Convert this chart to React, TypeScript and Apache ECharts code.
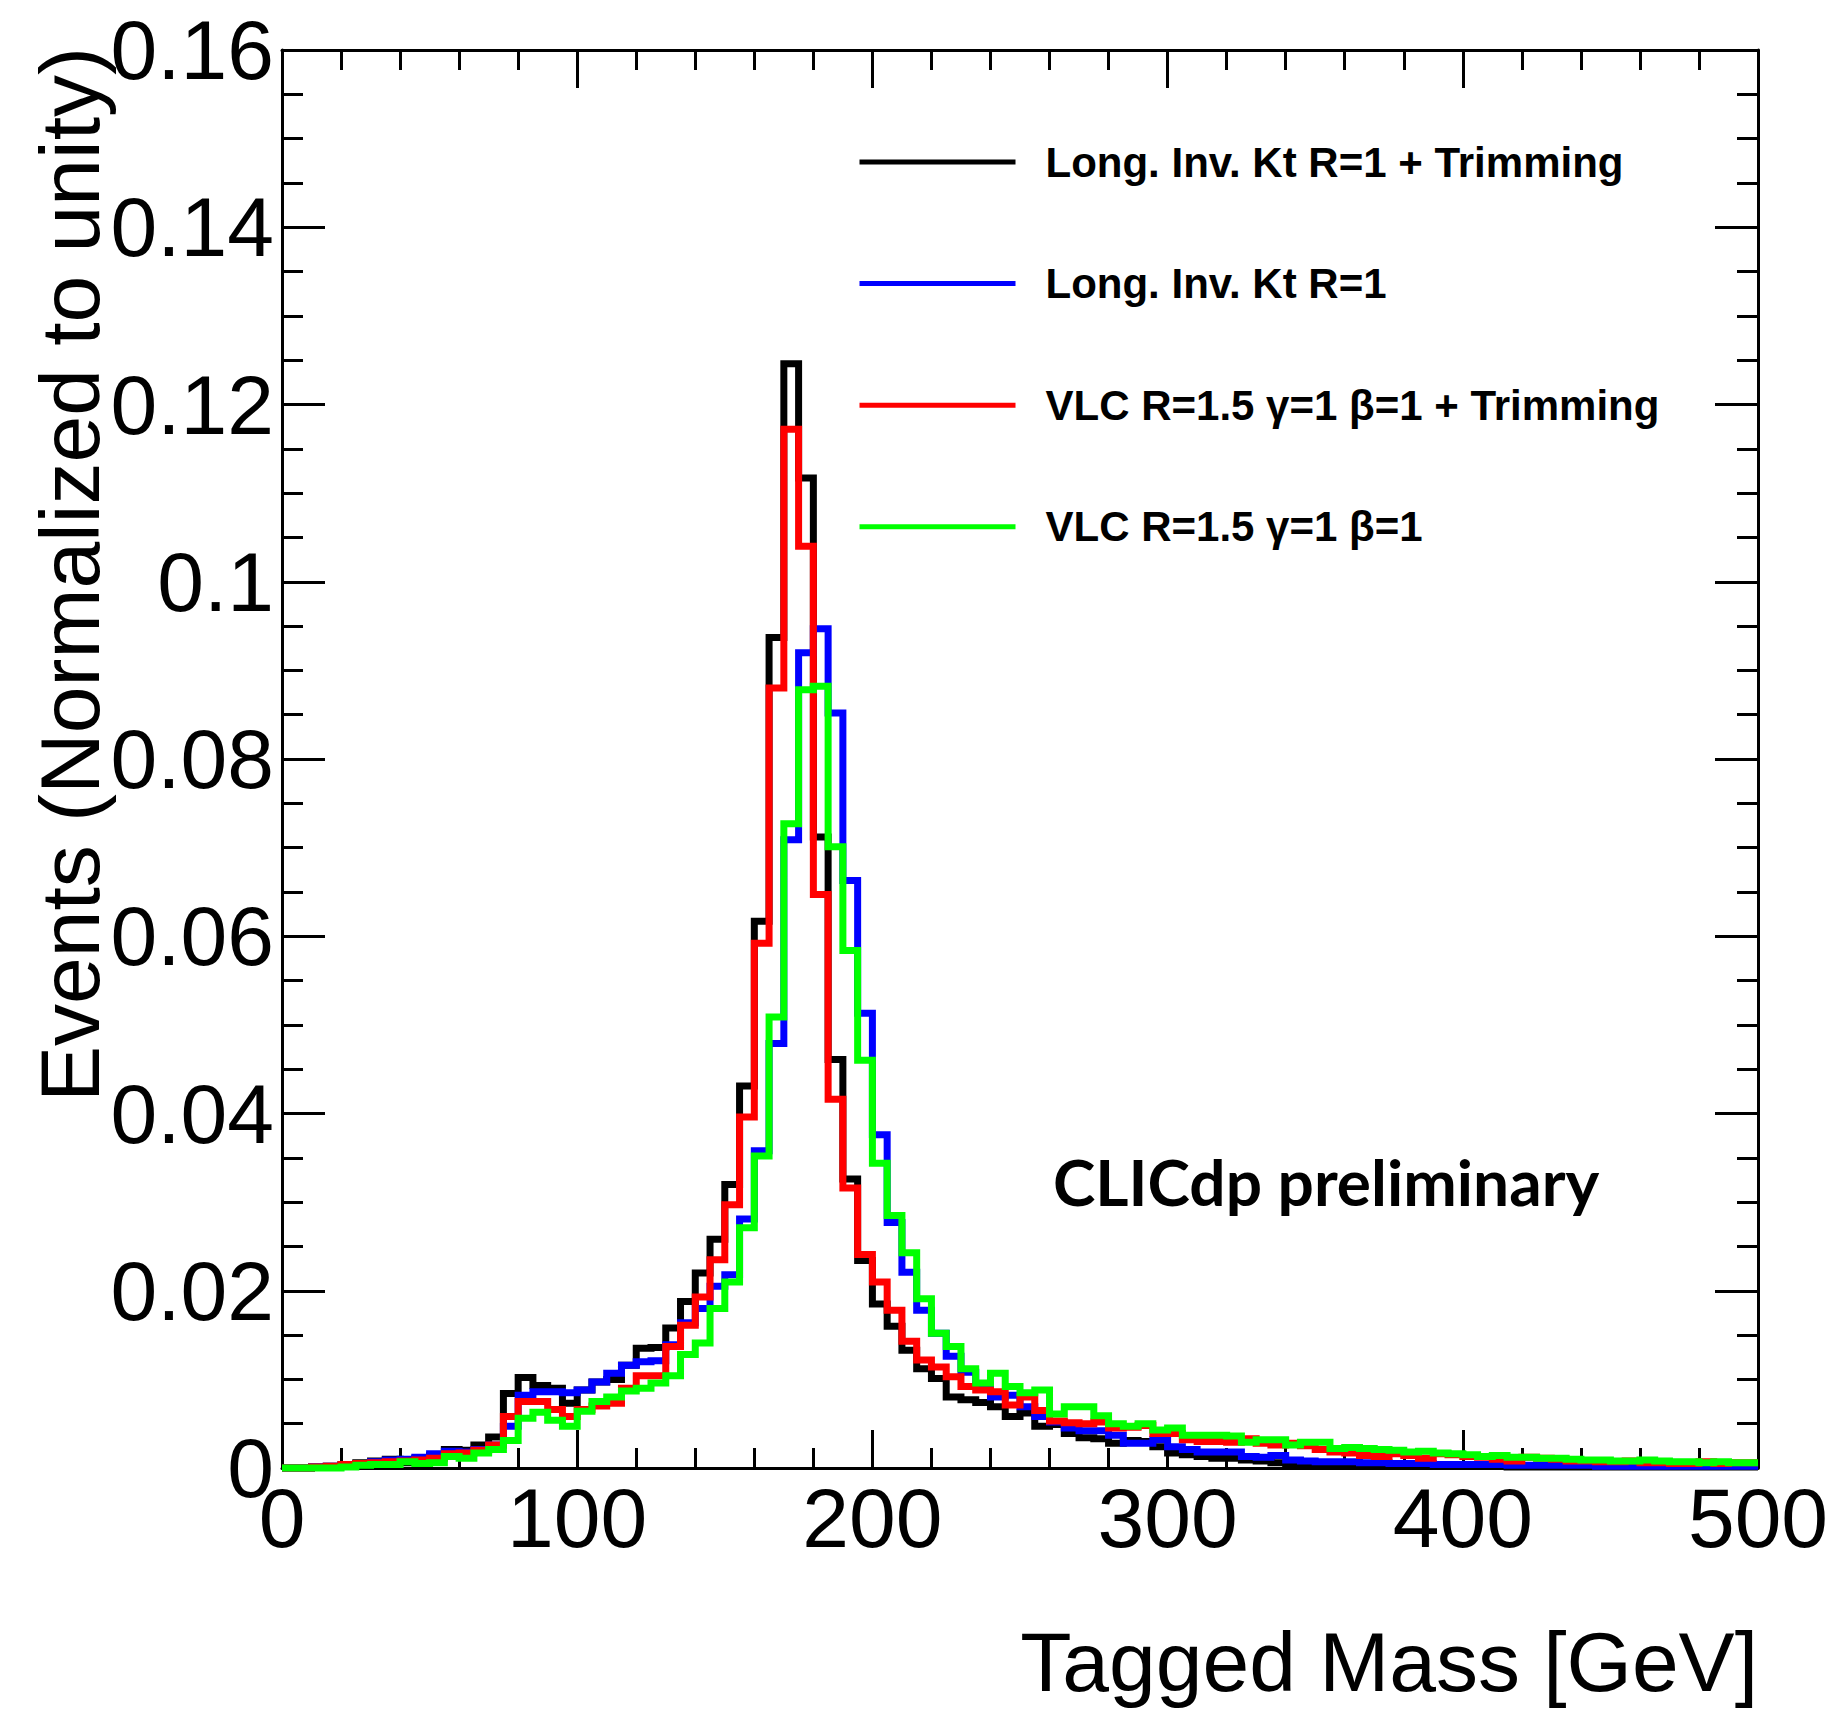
import React, { useEffect, useRef } from 'react';
import * as echarts from 'echarts';

// ---- data (histograms, 5 GeV bins from 0 to 500 GeV) ----
const BIN_WIDTH = 5;
const X_MIN = 0;
const X_MAX = 500;
const Y_MIN = 0;
const Y_MAX = 0.16;

const SERIES_NAMES = [
  'Long. Inv. Kt R=1 + Trimming',
  'Long. Inv. Kt R=1',
  'VLC R=1.5 γ=1 β=1 + Trimming',
  'VLC R=1.5 γ=1 β=1',
];
const SERIES_COLORS = ['#000000', '#0000ff', '#ff0000', '#00ff00'];

const likTrimmed = [
  0, 0, 0.0001, 0.0002, 0.0004, 0.0006, 0.0008, 0.0010, 0.0006, 0.0011,
  0.0014, 0.0021, 0.0020, 0.0026, 0.0035, 0.0084, 0.0102, 0.0093, 0.0090, 0.0073,
  0.0088, 0.0097, 0.0100, 0.0116, 0.0135, 0.0136, 0.0158, 0.0188, 0.0220, 0.0258,
  0.0320, 0.0431, 0.0617, 0.0937, 0.1246, 0.1117, 0.0712, 0.0461, 0.0326, 0.0234,
  0.0185, 0.0160, 0.0133, 0.0112, 0.0101, 0.0080, 0.0077, 0.0074, 0.0069, 0.0058,
  0.0062, 0.0047, 0.0049, 0.0039, 0.0034, 0.0033, 0.0028, 0.0031, 0.0030, 0.0024,
  0.0017, 0.0015, 0.0013, 0.0011, 0.0011, 0.0009, 0.0008, 0.0006, 0.0005, 0.0005,
  0.0004, 0.0004, 0.0004, 0.0003, 0.0003, 0.0003, 0.0002, 0.0002, 0.0002, 0.0002,
  0.0002, 0.0002, 0.0002, 0.0001, 0.0001, 0.0001, 0.0001, 0.0001, 0.0001, 0.0001,
  0.0001, 0.0001, 0.0001, 0.0001, 0.0001, 0.0001, 0.0001, 0.0001, 0.0001, 0.0001,
];

const likUntrimmed = [
  0, 0, 0.0001, 0.0002, 0.0003, 0.0005, 0.0007, 0.0009, 0.0010, 0.0012,
  0.0016, 0.0019, 0.0018, 0.0021, 0.0026, 0.0047, 0.0082, 0.0086, 0.0086, 0.0085,
  0.0088, 0.0097, 0.0107, 0.0116, 0.0120, 0.0121, 0.0139, 0.0164, 0.0180, 0.0205,
  0.0218, 0.0281, 0.0358, 0.0479, 0.0709, 0.0920, 0.0947, 0.0852, 0.0663, 0.0513,
  0.0376, 0.0277, 0.0221, 0.0178, 0.0152, 0.0126, 0.0108, 0.0094, 0.0080, 0.0082,
  0.0069, 0.0058, 0.0052, 0.0045, 0.0042, 0.0042, 0.0037, 0.0028, 0.0028, 0.0032,
  0.0024, 0.0021, 0.0018, 0.0018, 0.0018, 0.0013, 0.0012, 0.0014, 0.0009, 0.0008,
  0.0007, 0.0007, 0.0007, 0.0006, 0.0006, 0.0005, 0.0005, 0.0005, 0.0004, 0.0004,
  0.0004, 0.0004, 0.0004, 0.0003, 0.0003, 0.0003, 0.0003, 0.0003, 0.0003, 0.0002,
  0.0002, 0.0002, 0.0002, 0.0002, 0.0002, 0.0002, 0.0002, 0.0002, 0.0002, 0.0002,
];

const vlcTrimmed = [
  0, 0, 0.0001, 0.0002, 0.0004, 0.0005, 0.0006, 0.0007, 0.0008, 0.0009,
  0.0011, 0.0016, 0.0017, 0.0020, 0.0026, 0.0058, 0.0075, 0.0075, 0.0066, 0.0058,
  0.0066, 0.0070, 0.0073, 0.0090, 0.0104, 0.0104, 0.0137, 0.0161, 0.0193, 0.0235,
  0.0297, 0.0396, 0.0592, 0.0880, 0.1172, 0.1040, 0.0647, 0.0416, 0.0316, 0.0241,
  0.0210, 0.0178, 0.0143, 0.0122, 0.0114, 0.0103, 0.0092, 0.0088, 0.0086, 0.0071,
  0.0080, 0.0065, 0.0053, 0.0051, 0.0050, 0.0052, 0.0045, 0.0046, 0.0048, 0.0039,
  0.0039, 0.0032, 0.0030, 0.0030, 0.0029, 0.0033, 0.0028, 0.0026, 0.0028, 0.0025,
  0.0021, 0.0018, 0.0017, 0.0014, 0.0013, 0.0016, 0.0014, 0.0011, 0.0016, 0.0015,
  0.0013, 0.0012, 0.0010, 0.0008, 0.0012, 0.0011, 0.0010, 0.0008, 0.0008, 0.0007,
  0.0007, 0.0008, 0.0006, 0.0006, 0.0005, 0.0005, 0.0007, 0.0005, 0.0006, 0.0006,
];

const vlcUntrimmed = [
  0, 0, 0, 0, 0.0001, 0.0003, 0.0004, 0.0004, 0.0007, 0.0005,
  0.0006, 0.0013, 0.0011, 0.0017, 0.0021, 0.0031, 0.0056, 0.0063, 0.0054, 0.0047,
  0.0064, 0.0075, 0.0080, 0.0087, 0.0090, 0.0096, 0.0104, 0.0128, 0.0141, 0.0180,
  0.0210, 0.0271, 0.0352, 0.0509, 0.0727, 0.0878, 0.0882, 0.0701, 0.0584, 0.0460,
  0.0344, 0.0285, 0.0243, 0.0191, 0.0152, 0.0137, 0.0112, 0.0096, 0.0107, 0.0092,
  0.0085, 0.0088, 0.0061, 0.0069, 0.0069, 0.0059, 0.0050, 0.0047, 0.0050, 0.0043,
  0.0045, 0.0037, 0.0037, 0.0037, 0.0036, 0.0029, 0.0032, 0.0032, 0.0026, 0.0029,
  0.0029, 0.0022, 0.0023, 0.0022, 0.0021, 0.0020, 0.0018, 0.0019, 0.0017, 0.0016,
  0.0015, 0.0013, 0.0014, 0.0012, 0.0012, 0.0011, 0.0011, 0.0010, 0.0009, 0.0009,
  0.0008, 0.0008, 0.0009, 0.0008, 0.0007, 0.0007, 0.0006, 0.0007, 0.0006, 0.0006,
];

const SERIES_VALUES = [likTrimmed, likUntrimmed, vlcTrimmed, vlcUntrimmed];

const X_TITLE = 'Tagged Mass [GeV]';
const Y_TITLE = 'Events (Normalized to unity)';
const LABEL_TEXT = 'CLICdp preliminary';

// histogram contour: one point per bin low edge, plus the closing upper edge
const toSteps = (vals: number[]) => {
  const pts: [number, number][] = vals.map((v, i) => [X_MIN + i * BIN_WIDTH, v]);
  pts.push([X_MIN + vals.length * BIN_WIDTH, vals[vals.length - 1]]);
  return pts;
};

const AXIS_FONT = 'Liberation Sans';

const baseAxis = {
  axisLine: { show: true, onZero: false, lineStyle: { color: '#000', width: 3 } },
  splitLine: { show: false },
  minorSplitLine: { show: false },
};

const yFormatter = (v: number) => (v === 0 ? '0' : String(parseFloat(v.toFixed(3))));

export default function App() {
  const ref = useRef<HTMLDivElement>(null);
  useEffect(() => {
    document.body.style.margin = '0';
    const chart = echarts.init(ref.current!, null, { renderer: 'svg' });
    const option: any = {
      animation: false,
      backgroundColor: '#ffffff',
      grid: {
        left: 282,
        top: 50,
        right: 76,
        bottom: 242,
        containLabel: false,
        outerBoundsMode: 'none',
      },
      legend: {
        orient: 'vertical',
        left: 857,
        top: 141,
        padding: 0,
        itemWidth: 156,
        itemHeight: 42,
        itemGap: 79.6,
        selectedMode: false,
        data: SERIES_NAMES,
        lineStyle: { width: 5 },
        itemStyle: { opacity: 0, color: 'transparent', borderWidth: 0 },
        textStyle: {
          fontFamily: AXIS_FONT,
          fontWeight: 'bold',
          fontSize: 42,
          color: '#000',
          padding: [0, 0, 0, 25],
        },
      },
      xAxis: [
        {
          ...baseAxis,
          type: 'value',
          position: 'bottom',
          min: X_MIN,
          max: X_MAX,
          interval: 100,
          name: X_TITLE,
          nameLocation: 'end',
          nameGap: 0,
          nameMoveOverlap: false,
          nameTextStyle: {
            fontFamily: AXIS_FONT,
            fontSize: 84,
            color: '#000',
            align: 'right',
            verticalAlign: 'top',
            padding: [152, 0, 0, 0],
          },
          axisTick: { show: true, inside: true, length: 38, lineStyle: { color: '#000', width: 3 } },
          minorTick: { show: true, splitNumber: 5, length: 20, lineStyle: { color: '#000', width: 3 } },
          axisLabel: { show: true, fontFamily: AXIS_FONT, fontSize: 84, color: '#000', margin: 8 },
        },
        {
          ...baseAxis,
          type: 'value',
          position: 'top',
          min: X_MIN,
          max: X_MAX,
          interval: 100,
          axisTick: { show: true, inside: true, length: 38, lineStyle: { color: '#000', width: 3 } },
          minorTick: { show: true, splitNumber: 5, length: 20, lineStyle: { color: '#000', width: 3 } },
          axisLabel: { show: false },
        },
      ],
      yAxis: [
        {
          ...baseAxis,
          type: 'value',
          position: 'left',
          min: Y_MIN,
          max: Y_MAX,
          interval: 0.02,
          axisTick: { show: true, inside: true, length: 43, lineStyle: { color: '#000', width: 3 } },
          minorTick: { show: true, splitNumber: 4, length: 21, lineStyle: { color: '#000', width: 3 } },
          axisLabel: {
            show: true,
            fontFamily: AXIS_FONT,
            fontSize: 84,
            color: '#000',
            margin: 8,
            formatter: yFormatter,
          },
        },
        {
          ...baseAxis,
          type: 'value',
          position: 'right',
          min: Y_MIN,
          max: Y_MAX,
          interval: 0.02,
          axisTick: { show: true, inside: true, length: 43, lineStyle: { color: '#000', width: 3 } },
          minorTick: { show: true, splitNumber: 4, length: 21, lineStyle: { color: '#000', width: 3 } },
          axisLabel: { show: false },
        },
      ],
      graphic: [
        {
          // y-axis title, rotated to read bottom to top, ending at the top of the frame
          type: 'text',
          x: 70,
          y: 47,
          rotation: Math.PI / 2,
          silent: true,
          style: {
            text: Y_TITLE,
            fontFamily: AXIS_FONT,
            fontSize: 84,
            fill: '#000',
            align: 'right',
            verticalAlign: 'middle',
          },
        },
        {
          type: 'text',
          x: 1053,
          y: 1181,
          silent: true,
          style: {
            text: LABEL_TEXT,
            fontFamily: 'Lato',
            fontWeight: 'bold',
            fontSize: 64,
            fill: '#000',
            align: 'left',
            verticalAlign: 'middle',
          },
        },
      ],
      series: SERIES_NAMES.map((name, i) => ({
        name,
        type: 'line',
        xAxisIndex: 0,
        yAxisIndex: 0,
        step: 'end',
        symbol: 'none',
        showSymbol: false,
        clip: false,
        silent: true,
        color: SERIES_COLORS[i],
        lineStyle: { color: SERIES_COLORS[i], width: 7, join: 'miter', cap: 'butt' },
        emphasis: { disabled: true },
        data: toSteps(SERIES_VALUES[i]),
        z: 2 + i,
      })),
    };
    chart.setOption(option);
    return () => chart.dispose();
  }, []);
  return (
    <div
      ref={ref}
      style={{ position: 'absolute', left: 0, top: 0, width: 1834, height: 1710 }}
    />
  );
}
